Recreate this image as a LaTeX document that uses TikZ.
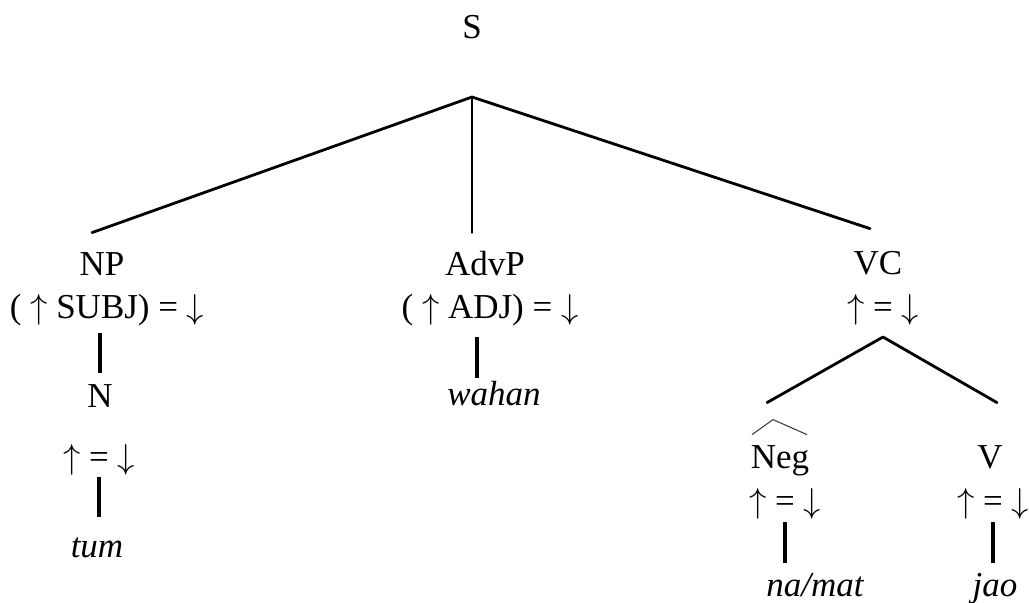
\documentclass[tikz,border=0pt]{standalone}
\usepackage{fontspec}
\setmainfont{Liberation Serif}
\usepackage{tikz}
\usetikzlibrary{positioning}

\newcommand{\up}{$\uparrow$}
\newcommand{\dn}{$\downarrow$}

\begin{document}
\begin{tikzpicture}[
  x=0.5pt, y=-0.5pt,
  font=\fontsize{17.5}{20}\selectfont,
  lab/.style={inner sep=0pt, text height=12pt, text depth=4pt, anchor=base},
  feq/.style={lab},
  word/.style={lab, font=\fontsize{17.5}{20}\selectfont\itshape},
  edge/.style={line width=1.4pt, line cap=round},
  stem/.style={line width=1.6pt},
  hatline/.style={line width=0.5pt, black!80},
]
\useasboundingbox (0,0) rectangle (1029,602);
% ================= top =================
\node[lab] (s) at (472,38) {S};
\coordinate (sBr) at (472,97);
% ================= subject branch =================
\node[lab] (np) at (102,275) {NP};
\node[feq] (npf) at (107,318) {( \up{} SUBJ) = \dn};
\node[lab] (n) at (100,407) {N};
\node[feq] (nf) at (99,468) {\up{} = \dn};
\node[word] (tum) at (97,557) {tum};
% ================= adverb branch =================
\node[lab] (advp) at (485,275) {AdvP};
\node[feq] (advpf) at (490,318) {( \up{} ADJ) = \dn};
\node[word] (wahan) at (494,405) {wahan};
% ================= verb complex =================
\node[lab] (vc) at (878,274) {VC};
\node[feq] (vcf) at (883,318) {\up{} = \dn};
\coordinate (vcBr) at (883,337);
\node[lab] (neg) at (780,468) {Neg};
\node[feq] (negf) at (785,512) {\up{} = \dn};
\node[word] (namat) at (815,596) {na/mat};
\node[lab] (v) at (990,468) {V};
\node[feq] (vf) at (993,512) {\up{} = \dn};
\node[word] (jao) at (995,596) {jao};
% ================= branches =================
\draw[edge] (sBr) -- ([shift={(-5pt,9pt)}]np.north);
\draw[edge] (sBr) -- ([shift={(-6.5pt,9pt)}]advp.north);
\draw[edge] (sBr) -- ([shift={(-4pt,10.5pt)}]vc.north);
\draw[edge] (vcBr) -- ([shift={(-6.5pt,20.5pt)}]neg.north);
\draw[edge] (vcBr) -- ([shift={(3.5pt,20.5pt)}]v.north);
\draw[stem, shorten <=3.5pt, shorten >=5pt] (n.north |- npf.south) -- (n.north);
\draw[stem, shorten <=0.5pt, shorten >=8pt] (nf.south) -- (nf.south |- tum.north);
\draw[stem, shorten <=5.5pt, shorten >=1.5pt] ([xshift=-6.5pt]advpf.south) -- ([xshift=-8.5pt]wahan.north);
\draw[stem, shorten <=1pt, shorten >=4.5pt] (negf.south) -- (negf.south |- namat.north);
\draw[stem, shorten <=1pt, shorten >=4.5pt] (vf.south) -- (vf.south |- jao.north);
% hat over Neg
\draw[hatline] ([shift={(-14pt,4.5pt)}]neg.north) -- ([shift={(-3.5pt,12pt)}]neg.north) -- ([shift={(13.5pt,4.5pt)}]neg.north);
\end{tikzpicture}
\end{document}
